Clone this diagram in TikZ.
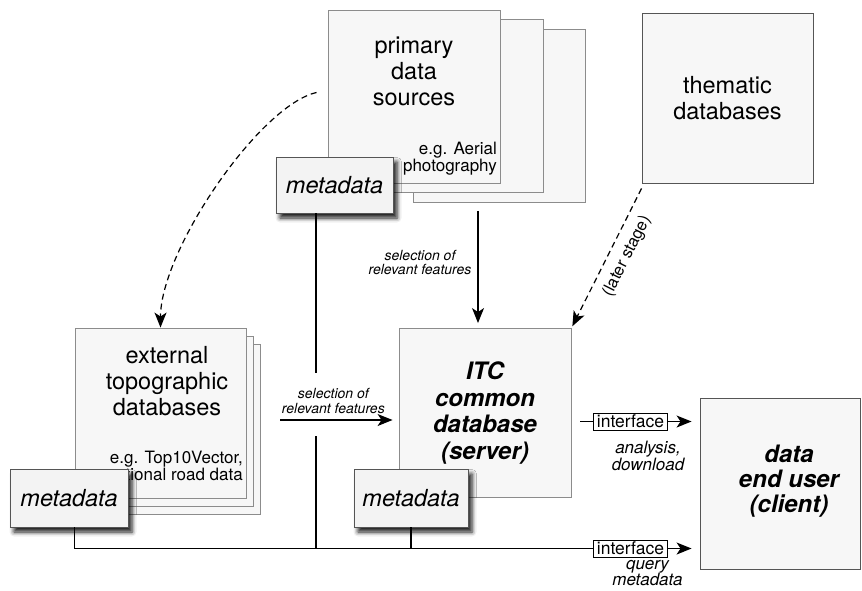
\documentclass[tikz,border=0pt]{standalone}
\usepackage{fontspec}
\setmainfont{TeX Gyre Heros}
\usetikzlibrary{arrows.meta,positioning,shadows.blur}

\definecolor{boxfill}{RGB}{247,247,247}
\definecolor{boxline}{RGB}{140,140,140}
\definecolor{darkline}{RGB}{85,85,85}
\definecolor{metafill}{RGB}{243,243,243}

\newcommand{\dbfont}{\fontsize{23.5}{26}\selectfont}
\newcommand{\egfont}{\fontsize{17}{17}\selectfont}
\newcommand{\selfont}{\fontsize{14}{14.5}\selectfont\itshape}
\newcommand{\iffont}{\fontsize{17.5}{17}\selectfont}

\begin{document}
\begin{tikzpicture}[x=1pt, y=-1pt,
    dbbox/.style={draw=boxline, fill=boxfill, line width=0.9pt, minimum width=172pt, minimum height=173pt, inner sep=0pt, align=center},
    dbtext/.style={align=center, inner sep=0pt, font=\dbfont},
    egtext/.style={align=right, inner sep=0pt, font=\egfont},
    metabox/.style={draw=darkline, fill=metafill, line width=0.9pt, minimum width=117pt, minimum height=56pt, inner sep=0pt, font=\dbfont\itshape,
      blur shadow={shadow xshift=4pt, shadow yshift=-5pt, shadow blur radius=4.5pt, shadow opacity=90}},
    ifbox/.style={draw, fill=white, line width=0.8pt, inner xsep=3.5pt, inner ysep=0pt, minimum height=17pt, font=\iffont},
    sellabel/.style={align=center, inner sep=0pt, font=\selfont},
    outlabel/.style={align=center, inner sep=0pt},
    conn/.style={line width=1.2pt},
    arrow/.style={-{Stealth[length=15pt, width=12pt, inset=4pt]}, line width=1.2pt},
    dasharrow/.style={arrow, dash pattern=on 6pt off 4pt}
  ]
  \useasboundingbox (0,0) rectangle (862,590);

  % primary data sources
  \node[dbbox] (prim3) at (499.5,116) {};
  \node[dbbox] (prim2) at (457,106) {};
  \node[dbbox] (prim1) at (414,96.5) {};
  \node[dbtext] (primtxt) at (414,71) {primary\\data\\sources};
  \node[egtext, anchor=east] (primeg) at (497,158.5) {e.g. Aerial\\photography};

  % thematic databases
  \node[dbbox, draw=darkline, minimum width=171pt, minimum height=170pt, font=\dbfont] (them) at (727.5,98) {thematic\\databases};

  % external databases
  \node[dbbox, minimum width=171pt, minimum height=170pt] (ext3) at (174.5,429) {};
  \node[dbbox, minimum width=171pt, minimum height=170pt] (ext2) at (167.5,421) {};
  \node[dbbox, minimum width=171pt, minimum height=170pt] (ext1) at (160.5,413) {};
  \node[dbtext] (exttxt) at (167,381.5) {external\\topographic\\databases};
  \node[egtext, anchor=east] (exteg) at (243,465.5) {e.g. Top10Vector,\\national road data};

  % ITC and end user
  \node[dbbox, minimum height=169pt, font=\fontsize{24}{26.5}\selectfont\bfseries\itshape] (itc) at (485,413) {ITC\\common\\database\\(server)};
  \node[dbbox, draw=darkline, minimum width=160pt, minimum height=171pt] (user) at (780,483.5) {};
  \node[dbtext, font=\fontsize{24}{25}\selectfont\bfseries\itshape] (usertxt) at (789,481) {data\\end user\\(client)};

  % metadata boxes
  \coordinate (pline) at (316,373);
  \coordinate (pline2) at (316,436);
  \node[metabox] (pmeta) at (334.5,185) {metadata};
  \node[metabox, minimum width=118pt, minimum height=58pt] (emeta) at (69,498) {metadata};
  \node[metabox, minimum width=114pt, minimum height=58pt] (imeta) at (411,498) {metadata};

  % interfaces
  \node[ifbox] (if1) at (630.5,421.5) {interface};
  \node[ifbox] (if2) at (630.5,548.5) {interface};
  \node[outlabel, font=\fontsize{17}{15.5}\selectfont\itshape] (anl) at (648,456) {analysis,\\download};
  \node[outlabel, font=\fontsize{17}{16.5}\selectfont\itshape] (qry) at (647.5,573) {query\\metadata};

  % connectors
  \coordinate (selx) at (478,0);
  \coordinate (selstart) at (280,420);
  \draw[arrow, shorten >=5pt] ([yshift=-8pt]prim3.south -| selx) -- node[sellabel, left=6pt, pos=0.44] {selection of\\relevant features} (itc.north -| selx);
  \draw[arrow, shorten >=6pt] (selstart) -- node[sellabel, above=6pt, pos=0.45] {selection of\\relevant features} (selstart -| itc.west);
  \draw[dasharrow, shorten >=2pt] ([yshift=-5pt]them.south west) -- node[pos=0.43, sloped, below=9pt, inner sep=0pt, font=\fontsize{16.5}{17}\selectfont] {(later stage)} (itc.north east);
  \draw[dasharrow] ([xshift=-11pt, yshift=4pt]prim1.west) .. controls (260,105) and (160.5,250) .. (ext1.north);

  \draw[conn] ([xshift=9pt]itc.east |- if1.west) -- (if1.west);
  \draw[arrow, shorten >=8pt] (if1.east) -- (user.west |- if1.east);
  \draw[arrow, shorten >=8pt] (if2.east) -- (user.west |- if2.east);
  \draw[conn] (ext1.west |- emeta.south) -- (ext1.west |- if2.west) -- (if2.west);
  \draw[conn] (pmeta.south -| pline) -- (pline);
  \draw[conn] (pline2) -- (pline2 |- if2.west);
  \draw[conn] (imeta.south) -- (imeta.south |- if2.west);
\end{tikzpicture}
\end{document}
